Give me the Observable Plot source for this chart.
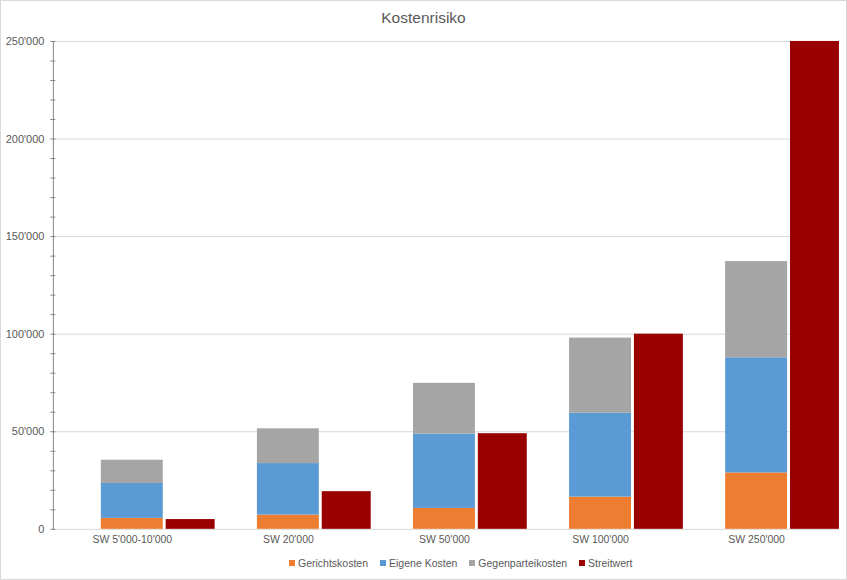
<!DOCTYPE html>
<html>
<head>
<meta charset="utf-8">
<script src="https://cdn.jsdelivr.net/npm/d3@7"></script>
<script src="https://cdn.jsdelivr.net/npm/@observablehq/plot@0.6"></script>
<style>
  html, body { margin: 0; padding: 0; background: #fff; }
  #wrap { position: relative; width: 847px; height: 580px; box-sizing: border-box; border: 1px solid #d9d9d9; font-family: "Liberation Sans", Arial, sans-serif; color: #595959; overflow: hidden; }
  #title { position: absolute; top: 8px; left: 0; width: 100%; text-align: center; font-size: 15.5px; color: #595959; }
  #chart { position: absolute; top: 29px; left: -1px; }
  #legend { position: absolute; top: 556px; left: 288px; display: flex; gap: 12px; font-size: 10.5px; color: #595959; white-space: nowrap; }
  #legend span.item { display: flex; align-items: center; }
  #legend span.sw { display: inline-block; width: 6px; height: 6px; margin-right: 3px; }
</style>
</head>
<body>
<div id="wrap">
  <div id="title">Kostenrisiko</div>
  <div id="chart"></div>
  <div id="legend"></div>
</div>
<script>
const categories = ["SW 5'000-10'000", "SW 20'000", "SW 50'000", "SW 100'000", "SW 250'000"];
const gerichtskosten = [5600, 7300, 10700, 16500, 28900];
const eigeneKosten = [17900, 26400, 38100, 43000, 59000];
const gegenparteikosten = [11900, 17800, 26000, 38500, 49300];
const streitwert = [5000, 19300, 49000, 100000, 250000];
const seriesNames = ["Gerichtskosten", "Eigene Kosten", "Gegenparteikosten", "Streitwert"];
const seriesColors = ["#ED7D31", "#5B9BD5", "#A5A5A5", "#990000"];
const yTicks = [0, 50000, 100000, 150000, 200000, 250000];

const stackSeries = [gerichtskosten, eigeneKosten, gegenparteikosten];
const stacked = [];
stackSeries.forEach((arr, si) => arr.forEach((v, i) => stacked.push({cat: categories[i], series: seriesNames[si], value: v})));
const swData = streitwert.map((v, i) => ({cat: categories[i], value: v}));

const fmt = v => d3.format(",")(v).replace(/,/g, "'");

const W = 848, H = 521;
const mL = 53, mR = 7, mT = 11, mB = 21;

const chart = Plot.plot({
  width: W,
  height: H,
  marginLeft: mL,
  marginRight: mR,
  marginTop: mT,
  marginBottom: mB,
  style: {fontFamily: "'Liberation Sans', Arial, sans-serif", fontSize: "11px", color: "#595959", background: "transparent"},
  x: {domain: categories, paddingInner: 0.6032, paddingOuter: 0.32, align: 0.48, round: false, label: null},
  y: {domain: [0, 250000], label: null},
  color: {domain: seriesNames, range: seriesColors},
  marks: [
    Plot.gridY(yTicks, {stroke: "#d9d9d9", strokeOpacity: 1}),
    Plot.barY(stacked, Plot.stackY({x: "cat", y: "value", fill: "series", order: seriesNames})),
    Plot.barY(swData, {x: "cat", y: "value", fill: seriesColors[3], dx: 65, insetRight: 13}),
    Plot.frame({anchor: "left", stroke: "#868686"}),
    Plot.axisY(d3.range(0, 250001, 10000), {tickSize: 5, dx: 2.5, tickFormat: () => "", stroke: "#868686"}),
    Plot.axisY(yTicks, {tickSize: 0, tickPadding: 9, tickFormat: fmt, fill: "#595959", fontSize: 11}),
    Plot.axisX({tickSize: 0, tickPadding: 6, fill: "#595959", fontSize: 10.5, label: null})
  ]
});
document.getElementById("chart").appendChild(chart);

const legend = document.getElementById("legend");
seriesNames.forEach((n, i) => {
  const item = document.createElement("span");
  item.className = "item";
  const sw = document.createElement("span");
  sw.className = "sw";
  sw.style.background = seriesColors[i];
  item.appendChild(sw);
  item.appendChild(document.createTextNode(n));
  legend.appendChild(item);
});
</script>
</body>
</html>
